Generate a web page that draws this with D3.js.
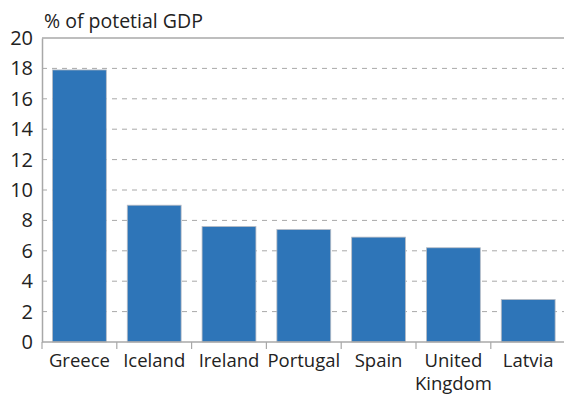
<!DOCTYPE html>
<html>
<head>
<meta charset="utf-8">
<script src="https://cdn.jsdelivr.net/npm/d3@7"></script>
<style>
  body { margin: 0; background: #fff; }
  text { font-family: "Open Sans", "Noto Sans", sans-serif; fill: #222; }
</style>
</head>
<body>
<svg id="chart" width="564" height="396"></svg>
<script>
// data
const countries = ["Greece", "Iceland", "Ireland", "Portugal", "Spain", "United Kingdom", "Latvia"];
const values = [17.9, 9.0, 7.6, 7.4, 6.9, 6.2, 2.8];
const yTicks = [0, 2, 4, 6, 8, 10, 12, 14, 16, 18, 20];

const svg = d3.select('#chart');
const margin = { top: 38, right: 0, bottom: 54, left: 42 };
const width = 564 - margin.left - margin.right;
const height = 396 - margin.top - margin.bottom;

const g = svg.append('g')
  .attr('transform', `translate(${margin.left},${margin.top})`);

const x = d3.scaleBand()
  .domain(countries)
  .range([0, 74.8 * countries.length])
  .paddingInner(0.28)
  .paddingOuter(0.14);

const y = d3.scaleLinear()
  .domain([0, 20])
  .range([height, 0]);

// gridlines
g.selectAll('.grid')
  .data(yTicks.filter(d => d > 0 && d < 20))
  .join('line')
  .attr('class', 'grid')
  .attr('x1', 0)
  .attr('x2', width)
  .attr('y1', d => y(d))
  .attr('y2', d => y(d))
  .attr('stroke', '#a8a8a8')
  .attr('stroke-width', 1)
  .attr('stroke-dasharray', '5,5');

// top frame line
g.append('line')
  .attr('x1', 0).attr('x2', width)
  .attr('y1', y(20)).attr('y2', y(20))
  .attr('stroke', '#a8a8a8')
  .attr('stroke-width', 1.5);

// bars
g.selectAll('.bar')
  .data(countries)
  .join('rect')
  .attr('class', 'bar')
  .attr('x', d => x(d))
  .attr('y', (d, i) => y(values[i]))
  .attr('width', x.bandwidth())
  .attr('height', (d, i) => y(0) - y(values[i]))
  .attr('fill', '#2e75b8')
  .attr('stroke', '#b8bcc4')
  .attr('stroke-width', 0.8);

// y axis
const yAxis = g.append('g')
  .call(d3.axisLeft(y).tickValues(yTicks).tickSize(0).tickPadding(9));
yAxis.select('.domain').attr('stroke', '#a8a8a8').attr('stroke-width', 1.5);
yAxis.selectAll('text')
  .attr('font-size', '20px')
  .attr('fill', '#222')
  .style('font-family', '"Open Sans", "Noto Sans", sans-serif');

// x axis with ticks between categories
const xAxisG = g.append('g')
  .attr('transform', `translate(0,${height})`);
xAxisG.append('line')
  .attr('x1', 0).attr('x2', width)
  .attr('stroke', '#a8a8a8')
  .attr('stroke-width', 1.5);
const step = x.step();
xAxisG.selectAll('.sep')
  .data(d3.range(0, countries.length))
  .join('line')
  .attr('class', 'sep')
  .attr('x1', i => i * step)
  .attr('x2', i => i * step)
  .attr('y1', 0)
  .attr('y2', 7)
  .attr('stroke', '#a8a8a8')
  .attr('stroke-width', 1.2);

xAxisG.selectAll('.lab')
  .data(countries)
  .join('text')
  .attr('class', 'lab')
  .attr('text-anchor', 'middle')
  .attr('font-size', '18.5px')
  .attr('x', d => x(d) + x.bandwidth() / 2)
  .attr('y', 25)
  .each(function(d) {
    const words = d.split(' ');
    const t = d3.select(this);
    words.forEach((w, i) => {
      t.append('tspan')
        .attr('x', x(d) + x.bandwidth() / 2)
        .attr('dy', i === 0 ? 0 : 23)
        .text(w);
    });
  });

// unit title
svg.append('text')
  .attr('x', 44)
  .attr('y', 28)
  .attr('font-size', '19.5px')
  .text('% of potetial GDP');
</script>
</body>
</html>
